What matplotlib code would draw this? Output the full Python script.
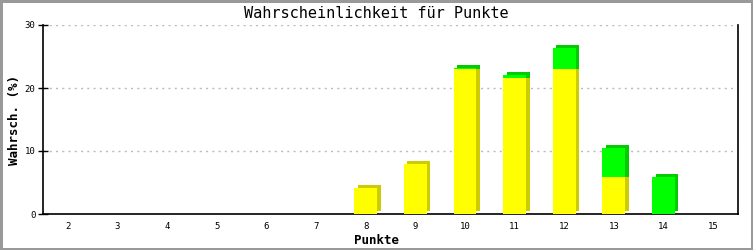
import matplotlib
matplotlib.use("Agg")
import matplotlib.pyplot as plt
from matplotlib.transforms import ScaledTranslation
import numpy as np

# Data
punkte = ["2", "3", "4", "5", "6", "7", "8", "9", "10", "11", "12", "13", "14", "15"]
gelb = [0, 0, 0, 0, 0, 0, 4.1, 7.9, 23.0, 21.6, 23.0, 5.9, 0, 0]
gruen = [0, 0, 0, 0, 0, 0, 0, 0, 0.2, 0.5, 3.4, 4.6, 5.9, 0]

FONT = ["DejaVu Sans Mono"]

fig = plt.figure(figsize=(7.53, 2.5), dpi=100)
fig.patch.set_edgecolor("#999999")
fig.patch.set_linewidth(2.5)
ax = fig.add_axes([43 / 753, 36 / 250, 695 / 753, 189 / 250])

x = np.arange(len(punkte))
gelb = np.array(gelb)
gruen = np.array(gruen)
w = 0.46
kw = dict(linewidth=0, antialiased=False)

# depth effect: darker copy shifted up/right behind the front faces
dy = 3  # px
shift = ax.transData + ScaledTranslation(3.5 / 100, dy / 100, fig.dpi_scale_trans)
d = 30 * dy / 189  # shift expressed in data units
g_bot = np.where(gruen > 0, np.maximum(gelb - d, 0), gelb)
ax.bar(x, gelb, w, color="#cccc00", transform=shift, zorder=2, **kw)
ax.bar(x, np.where(gruen > 0, gelb + gruen - g_bot, 0), w, bottom=g_bot,
       color="#00cc00", transform=shift, zorder=2, **kw)
ax.bar(x, gelb, w, color="#ffff00", zorder=3, **kw)
ax.bar(x, gruen, w, bottom=gelb, color="#00ff00", zorder=3, **kw)

ax.set_xlim(-0.5, len(punkte) - 0.5)
ax.set_ylim(0, 30)
ax.set_xticks(x)
ax.set_xticklabels(punkte, family=FONT, fontsize=6.5)
ax.set_yticks([0, 10, 20, 30])
ax.set_yticklabels(["0", "10", "20", "30"], family=FONT, fontsize=6.5)
ax.tick_params(axis="x", length=0, pad=6)
ax.tick_params(axis="y", direction="inout", length=7, width=1, pad=2)
ax.yaxis.grid(True, linestyle=(0, (1.5, 3)), color="#bbbbbb", linewidth=1)
ax.set_axisbelow(True)
ax.spines["top"].set_visible(False)
for s in ["left", "bottom", "right"]:
    ax.spines[s].set_linewidth(1.2)

fig.text(0.5, 0.945, "Wahrscheinlichkeit für Punkte", ha="center", va="center",
         family=FONT, fontsize=11)
fig.text(0.5, 0.04, "Punkte", ha="center", va="center", family=FONT,
         fontsize=9, fontweight="bold")
fig.text(0.019, 0.52, "Wahrsch. (%)", ha="center", va="center", rotation=90,
         family=FONT, fontsize=9, fontweight="bold")

fig.savefig("out.png", dpi=100)
